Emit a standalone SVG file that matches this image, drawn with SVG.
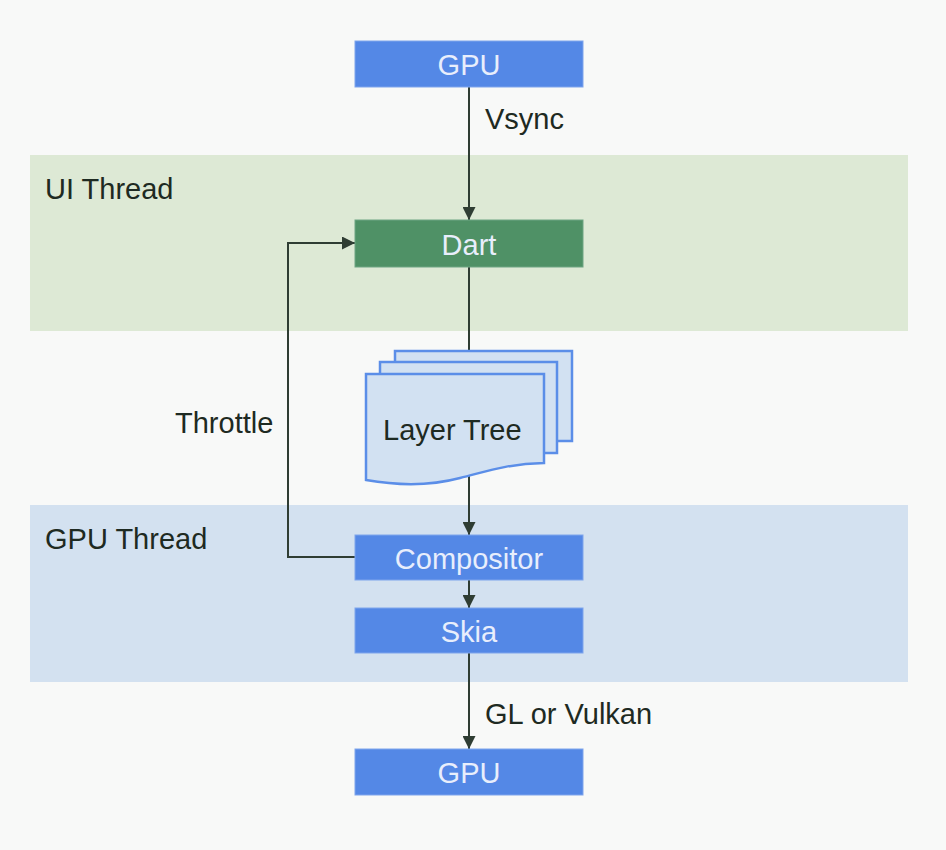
<svg xmlns="http://www.w3.org/2000/svg" width="946" height="850" viewBox="0 0 946 850">
<defs>
<style>
.bg{fill:#f8f9f8}
.blue{fill:#5488e6;stroke:#7ea5ec;stroke-width:1}
.green{fill:#4f9166;stroke:#6ea583;stroke-width:1}
.nt{font-family:"Liberation Sans",Arial,sans-serif;font-size:29px;fill:#e8eefc;text-anchor:middle}
.lbl{font-family:"Liberation Sans",Arial,sans-serif;font-size:29px;fill:#1e2a22}
.page{fill:#d2e1f2;stroke:#5b8ee8;stroke-width:2.5}
.conn{fill:none;stroke:#2f3d33;stroke-width:2}
</style>
<marker id="arr" viewBox="0 0 10 10" refX="10" refY="5" markerWidth="14" markerHeight="13" orient="auto" markerUnits="userSpaceOnUse">
<path d="M0,0 L10,5 L0,10 z" fill="#2f3d33"/>
</marker>
</defs>
<rect class="bg" x="0" y="0" width="946" height="850"/>
<g id="ui-thread">
<rect x="30" y="155" width="878" height="176" fill="#dde9d5"/>
<text class="lbl" x="45" y="199">UI Thread</text>
</g>
<g id="gpu-thread">
<rect x="30" y="505" width="878" height="177" fill="#d3e1f0"/>
<text class="lbl" x="45" y="549">GPU Thread</text>
</g>
<g id="connectors">
<line class="conn" x1="469" y1="87" x2="469" y2="220" marker-end="url(#arr)"/>
<line class="conn" x1="469" y1="267" x2="469" y2="351"/>
<line class="conn" x1="469" y1="470" x2="469" y2="535" marker-end="url(#arr)"/>
<line class="conn" x1="469" y1="580" x2="469" y2="608" marker-end="url(#arr)"/>
<line class="conn" x1="469" y1="653" x2="469" y2="749" marker-end="url(#arr)"/>
<polyline class="conn" points="355,557 288,557 288,243 355,243" marker-end="url(#arr)"/>
<text class="lbl" x="485" y="129">Vsync</text>
<text class="lbl" x="485" y="724">GL or Vulkan</text>
<text class="lbl" x="175" y="433">Throttle</text>
</g>
<g id="gpu-top">
<rect class="blue" x="355" y="41" width="228" height="46"/>
<text class="nt" x="469" y="75">GPU</text>
</g>
<g id="dart">
<rect class="green" x="355" y="220" width="228" height="47"/>
<text class="nt" x="469" y="255">Dart</text>
</g>
<g id="layer-tree">
<rect class="page" x="395" y="351" width="177" height="90"/>
<rect class="page" x="380" y="362" width="177" height="91"/>
<path class="page" d="M366,374 H544 V463 C505,464 485,472 460,478 C430,486 400,486 366,480 Z"/>
<text class="lbl" x="383" y="440">Layer Tree</text>
</g>
<g id="compositor">
<rect class="blue" x="355" y="535" width="228" height="45"/>
<text class="nt" x="469" y="569">Compositor</text>
</g>
<g id="skia">
<rect class="blue" x="355" y="608" width="228" height="45"/>
<text class="nt" x="469" y="642">Skia</text>
</g>
<g id="gpu-bottom">
<rect class="blue" x="355" y="749" width="228" height="46"/>
<text class="nt" x="469" y="783">GPU</text>
</g>
</svg>
